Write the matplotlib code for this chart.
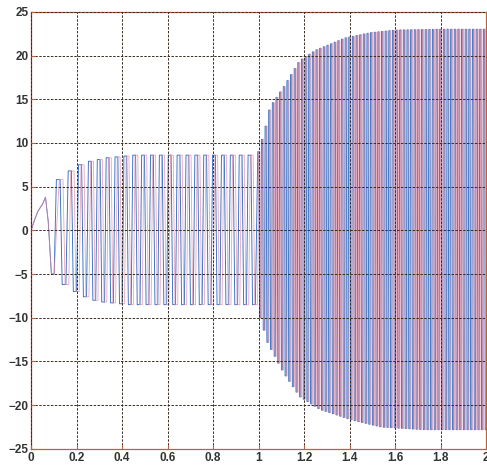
import numpy as np
import matplotlib
matplotlib.use("Agg")
import matplotlib.pyplot as plt

# --- values --------------------------------------------------------------
# first slow ramp of the signal (time, value)
ramp_t = [0.0, 0.015, 0.03, 0.05, 0.063, 0.075]
ramp_v = [0.0, 1.2, 2.2, 3.0, 3.8, 1.0]
first_low = -5.0                      # first trough after the ramp
first_low_t = 0.095

# centres of the pulse tops in the settling part
early_tops = [0.119, 0.170, 0.215, 0.258]
mid_start, mid_period, mid_cycles = 0.297, 0.039, 18

# top / bottom level of each pulse (settling part, then steady level)
early_hi = [5.8, 6.8, 7.5, 7.9, 8.1, 8.3, 8.4, 8.5]
early_lo = [-6.2, -7.0, -7.6, -8.0, -8.2, -8.3, -8.4, -8.5]
steady_hi, steady_lo = 8.6, -8.5

# fast oscillation after t = 1 : envelope read at a few times
dense_start, dense_period = 0.999, 0.016
env_hi_t = [1.0, 1.03, 1.05, 1.11, 1.18, 1.25, 1.38, 1.49, 1.6, 1.8, 2.0]
env_hi_v = [9.0, 11.8, 14.1, 16.4, 19.4, 20.6, 22.0, 22.6, 22.9, 23.0, 23.0]
env_lo_t = [1.0, 1.04, 1.11, 1.18, 1.27, 1.33, 1.41, 1.54, 1.73, 2.0]
env_lo_v = [-9.4, -12.9, -16.3, -19.0, -20.5, -21.0, -21.7, -22.5, -22.8, -22.8]

x_ticks = [0, 0.2, 0.4, 0.6, 0.8, 1, 1.2, 1.4, 1.6, 1.8, 2]
x_labels = ["0", "0.2", "0.4", "0.6", "0.8", "1", "1.2", "1.4", "1.6", "1.8", "2"]
y_ticks = [-25, -20, -15, -10, -5, 0, 5, 10, 15, 20, 25]


def build_wave(lag):
    """Trapezoid pulse train through the read tops / levels, shifted by lag periods."""
    tops = list(early_tops) + [mid_start + mid_period * k for k in range(mid_cycles)]
    his = list(early_hi) + [steady_hi] * (len(tops) - len(early_hi))
    los = list(early_lo) + [steady_lo] * (len(tops) - len(early_lo))
    c = dense_start
    while c < 2.02:
        tops.append(c)
        his.append(np.interp(c, env_hi_t, env_hi_v))
        los.append(np.interp(c + dense_period / 2, env_lo_t, env_lo_v))
        c += dense_period
    tops.append(tops[-1] + dense_period)

    t = list(ramp_t) + [first_low_t - 0.006, first_low_t + 0.006]
    v = list(ramp_v) + [first_low, first_low]
    for i in range(len(tops) - 1):
        p = tops[i + 1] - tops[i]
        ci = tops[i] + lag * p
        t += [ci - 0.16 * p, ci + 0.16 * p, ci + 0.34 * p, ci + 0.66 * p]
        v += [his[i], his[i], los[i], los[i]]
    return np.array(t), np.array(v)


t_red, v_red = build_wave(0.25)
t_blue, v_blue = build_wave(0.0)

fig = plt.figure(figsize=(4.87, 4.72), dpi=100)
ax = fig.add_axes([0.064, 0.049, 0.934, 0.926])

ax.plot(t_blue, v_blue, color="#2f6fc8", linewidth=0.65)
ax.plot(t_red, v_red, color="#e8879c", linewidth=0.6, alpha=0.75)

ax.set_xlim(0, 2)
ax.set_ylim(-25, 25)
ax.set_xticks(x_ticks)
ax.set_xticklabels(x_labels)
ax.set_yticks(y_ticks)

ax.grid(True, color="#3a2a22", linestyle=(0, (2.5, 1.5)), linewidth=0.7)
ax.set_axisbelow(False)
for s in ax.spines.values():
    s.set_color("#c0603a")
    s.set_linewidth(0.9)
ax.spines["left"].set_color("#8a4a30")
ax.tick_params(direction="in", length=3, color="#c0603a",
               labelsize=8.5, labelcolor="#333333", pad=2)
for lab in ax.get_xticklabels() + ax.get_yticklabels():
    lab.set_fontfamily("Liberation Sans")
    lab.set_fontweight("bold")

fig.savefig("out.png", dpi=100)
